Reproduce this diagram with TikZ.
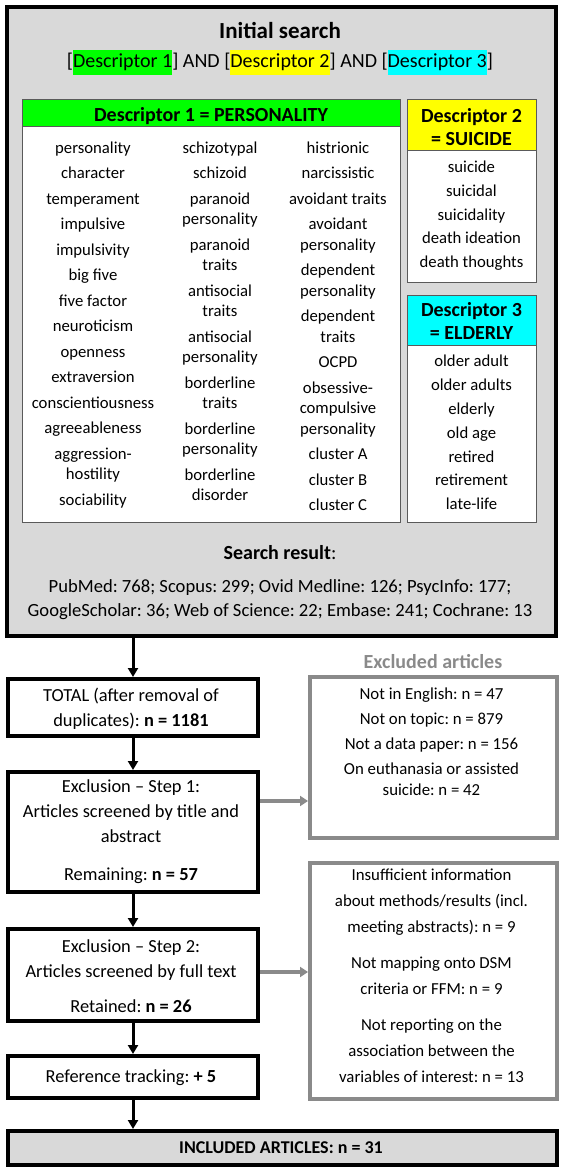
\documentclass[tikz,border=0pt]{standalone}
\usepackage{fontspec}
\setmainfont{Carlito}
\frenchspacing
\usetikzlibrary{arrows.meta,calc}
\definecolor{bgray}{HTML}{D9D9D9}
\definecolor{exgray}{HTML}{8A8A8A}
\definecolor{dgray}{HTML}{5A5A5A}
\definecolor{hgreen}{HTML}{00FF00}
\definecolor{hyellow}{HTML}{FFFF00}
\definecolor{hcyan}{HTML}{00FFFF}
\newcommand\hl[2]{{\setlength\fboxsep{0pt}\colorbox{#1}{\rule[-0.35em]{0pt}{1.25em}#2}}}
\newcommand\bx[6]{\node[#1, anchor=north west, inner sep=0pt, minimum width={#5-#3}, minimum height={#6-#4}] (#2) at (#3,#4) {};}
\begin{document}
\begin{tikzpicture}[x=1pt, y=-1pt,
  thickbox/.style={draw=black, line width=4pt, fill=white},
  grybox/.style={draw=exgray, line width=3.5pt, fill=white},
  descbox/.style={draw=dgray, line width=1.2pt, fill=white},
  txt/.style={align=center, inner sep=0pt, yshift=-3.5pt, execute at begin node=\strut, execute at end node=\strut},
  lst/.style={txt, font=\fontsize{16.7}{20.5}\selectfont},
  hdr/.style={txt, font=\fontsize{20}{23}\selectfont\bfseries},
  low/.style={txt, font=\fontsize{18.4}{25}\selectfont},
  exl/.style={txt, font=\fontsize{16.8}{20.5}\selectfont},
  barrow/.style={draw=black, line width=3pt, -{Triangle[length=9pt,width=10pt]}},
  garrow/.style={draw=exgray, line width=3.5pt, -{Triangle[length=8pt,width=10pt]}}
]
\useasboundingbox (0,0) rectangle (561,1167);

% outer search box
\bx{thickbox, fill=bgray}{outer}{5}{5}{554}{634}
\node[txt, font=\fontsize{23}{28}\selectfont\bfseries] (title) at (280,29) {Initial search};
\node[inner sep=0pt, yshift=-2pt, font=\fontsize{20}{24}\selectfont] (query) at (280,60)
  {[\hl{hgreen}{Descriptor 1}] AND [\hl{hyellow}{Descriptor 2}] AND [\hl{hcyan}{Descriptor 3}]};

% descriptor 1
\bx{descbox}{d1}{22}{99}{400}{522}
\bx{descbox, fill=hgreen}{d1h}{22}{99}{400}{126}
\node[hdr] (d1t) at (211,113) {Descriptor 1 = PERSONALITY};
\node[lst] (c1) at (93,323) {personality\\[5pt]character\\[5pt]temperament\\[5pt]impulsive\\[5pt]impulsivity\\[5pt]big five\\[5pt]five factor\\[5pt]neuroticism\\[5pt]openness\\[5pt]extraversion\\[5pt]conscientiousness\\[5pt]agreeableness\\[5pt]aggression-\\hostility\\[5pt]sociability};
\node[lst] (c2) at (220,320.75) {schizotypal\\[5pt]schizoid\\[5pt]paranoid\\personality\\[5pt]paranoid\\traits\\[5pt]antisocial\\traits\\[5pt]antisocial\\personality\\[5pt]borderline\\traits\\[5pt]borderline\\personality\\[5pt]borderline\\disorder};
\node[lst] (c3) at (338,325.75) {histrionic\\[5pt]narcissistic\\[5pt]avoidant traits\\[5pt]avoidant\\personality\\[5pt]dependent\\personality\\[5pt]dependent\\traits\\[5pt]OCPD\\[5pt]obsessive-\\compulsive\\personality\\[5pt]cluster A\\[5pt]cluster B\\[5pt]cluster C};

% descriptor 2
\bx{descbox}{d2}{407}{99}{536}{282}
\bx{descbox, fill=hyellow}{d2h}{407}{99}{536}{150}
\node[hdr] (d2t) at (471.5,126.5) {Descriptor 2\\= SUICIDE};
\node[txt, font=\fontsize{16.7}{23.75}\selectfont] (d2l) at (471.5,214.5) {suicide\\suicidal\\suicidality\\death ideation\\death thoughts};

% descriptor 3
\bx{descbox}{d3}{407}{295}{536}{522}
\bx{descbox, fill=hcyan}{d3h}{407}{295}{536}{345}
\node[hdr] (d3t) at (471.5,321) {Descriptor 3\\= ELDERLY};
\node[txt, font=\fontsize{16.7}{23.8}\selectfont] (d3l) at (471.5,432.5) {older adult\\older adults\\elderly\\old age\\retired\\retirement\\late-life};

% search result
\node[txt, font=\fontsize{20}{24}\selectfont] (srt) at (280,551) {\textbf{Search result}:};
\node[txt, font=\fontsize{18.6}{24.5}\selectfont] (srl) at (280,598) {PubMed: 768; Scopus: 299; Ovid Medline: 126; PsycInfo: 177;\\GoogleScholar: 36; Web of Science: 22; Embase: 241; Cochrane: 13};

% left flow
\bx{thickbox}{total}{6}{677}{256}{734}
\node[low] (totalt) at (131,708) {TOTAL (after removal of\\duplicates): \textbf{n = 1181}};
\bx{thickbox}{step1}{6}{770}{256}{890}
\node[low] (step1t) at (131,830.5) {Exclusion -- Step 1:\\Articles screened by title and\\abstract\\[13pt]Remaining: \textbf{n = 57}};
\bx{thickbox}{step2}{6}{927}{256}{1019}
\node[low] (step2t) at (131,976) {Exclusion -- Step 2:\\Articles screened by full text\\[10pt]Retained: \textbf{n = 26}};
\bx{thickbox}{ref}{6}{1054}{256}{1096}
\node[low] (reft) at (131,1074) {Reference tracking: \textbf{+ 5}};
\bx{thickbox, fill=bgray}{incl}{6}{1129}{555}{1163}
\node[txt, font=\fontsize{18}{22}\selectfont\bfseries] (inclt) at (281,1146) {INCLUDED ARTICLES: n = 31};

% excluded
\node[txt, font=\fontsize{20}{24}\selectfont\bfseries, text=exgray] (exlab) at (433,660) {Excluded articles};
\bx{grybox}{ex1}{308}{675}{555}{836}
\node[exl] (ex1t) at (431.5,741) {Not in English: n = 47\\[4.5pt]Not on topic: n = 879\\[4.5pt]Not a data paper: n = 156\\[4.5pt]On euthanasia or assisted\\suicide: n = 42};
\bx{grybox}{ex2}{308}{861}{555}{1097}
\node[txt, font=\fontsize{16.8}{26}\selectfont] (ex2t) at (431.5,976) {Insufficient information\\about methods/results (incl.\\meeting abstracts): n = 9\\[10pt]Not mapping onto DSM\\criteria or FFM: n = 9\\[10pt]Not reporting on the\\association between the\\variables of interest: n = 13};

% connectors
\coordinate (ax) at (133,0);
\coordinate (g1) at (0,801);
\coordinate (g2) at (0,972);
\draw[barrow] (outer.south -| ax) -- (total.north -| ax);
\draw[barrow] (total.south -| ax) -- (step1.north -| ax);
\draw[barrow] (step1.south -| ax) -- (step2.north -| ax);
\draw[barrow] (step2.south -| ax) -- (ref.north -| ax);
\draw[barrow] (ref.south -| ax) -- (incl.north -| ax);
\draw[garrow] (step1.east |- g1) -- (ex1.west |- g1);
\draw[garrow] (step2.east |- g2) -- (ex2.west |- g2);
\end{tikzpicture}
\end{document}
